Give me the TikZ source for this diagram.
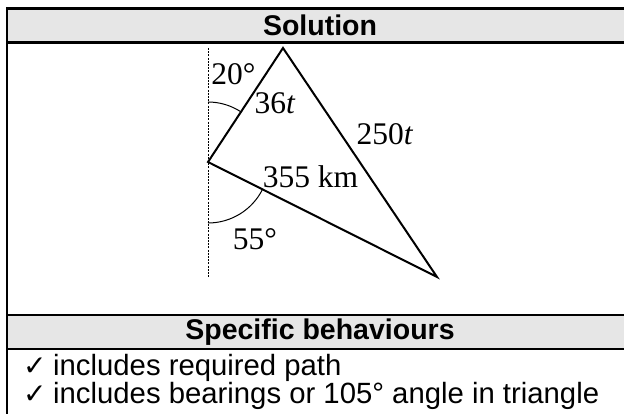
\documentclass[tikz,border=0pt]{standalone}
\usepackage{fontspec}
\setmainfont{Liberation Serif}
\setsansfont{Liberation Sans}
\newfontfamily\symfont{DejaVu Sans}
\definecolor{hdrgray}{RGB}{230,230,230}
\begin{document}
\begin{tikzpicture}[x=1pt,y=1pt,
  tbl/.style={line width=2.2pt},
  hdr/.style={font=\sffamily\bfseries\fontsize{28.5}{30}\selectfont, inner sep=0pt},
  body/.style={font=\sffamily\fontsize{29.3}{31}\selectfont, inner sep=0pt, anchor=base west},
  tick/.style={font=\symfont\fontsize{28}{30}\selectfont, inner sep=0pt, anchor=base west},
  edge/.style={line width=2pt, line join=miter},
  ang/.style={line width=1pt},
  lbl/.style={font=\fontsize{31.5}{33}\selectfont, inner sep=0pt}]
\clip (0,0) rectangle (624,-414);
\fill[white] (0,0) rectangle (624,-414);
% header fills
\fill[hdrgray] (7,-8.5) rectangle (640,-42.5);
\fill[hdrgray] (7,-315) rectangle (640,-349);
% table lines
\draw[tbl] (7,-8.5) -- (640,-8.5);
\draw[tbl] (7,-42.5) -- (640,-42.5);
\draw[tbl] (7,-315) -- (640,-315);
\draw[tbl] (7,-349) -- (640,-349);
\draw[tbl] (7,-7.4) -- (7,-420);
\node[hdr] (h1) at (320,-25.5) {Solution};
\node[hdr] (h2) at (320,-332) {Specific behaviours};
\node[tick] (c1) at (23,-375) {✓};
\node[body] (r1) at (53,-375) {includes required path};
\node[tick] (c2) at (23,-403) {✓};
\node[body] (r2) at (53,-403) {includes bearings or 105° angle in triangle};
% diagram
\coordinate (L) at (208,-162);
\coordinate (A) at (283,-48);
\coordinate (B) at (437,-277);
\coordinate (N1) at (208,-48);
\coordinate (N2) at (208,-277);
\draw[line width=0.9pt, dash pattern=on 2pt off 1.2pt] (N1) -- (N2);
\draw[ang] (L) ++(90:60) arc[start angle=90, end angle=56.7, radius=60];
\draw[ang] (L) ++(270:61) arc[start angle=270, end angle=333.3, radius=61];
\draw[edge] (L) -- (A) -- (B) -- cycle;
\node[lbl] (a20) at (233.5,-74) {20°};
\node[lbl] (s36) at (275,-103) {36\textit{t}};
\node[lbl] (s250) at (385,-134) {250\textit{t}};
\node[lbl] (s355) at (310.5,-177) {355 km};
\node[lbl] (a55) at (255,-239) {55°};
\end{tikzpicture}
\end{document}
